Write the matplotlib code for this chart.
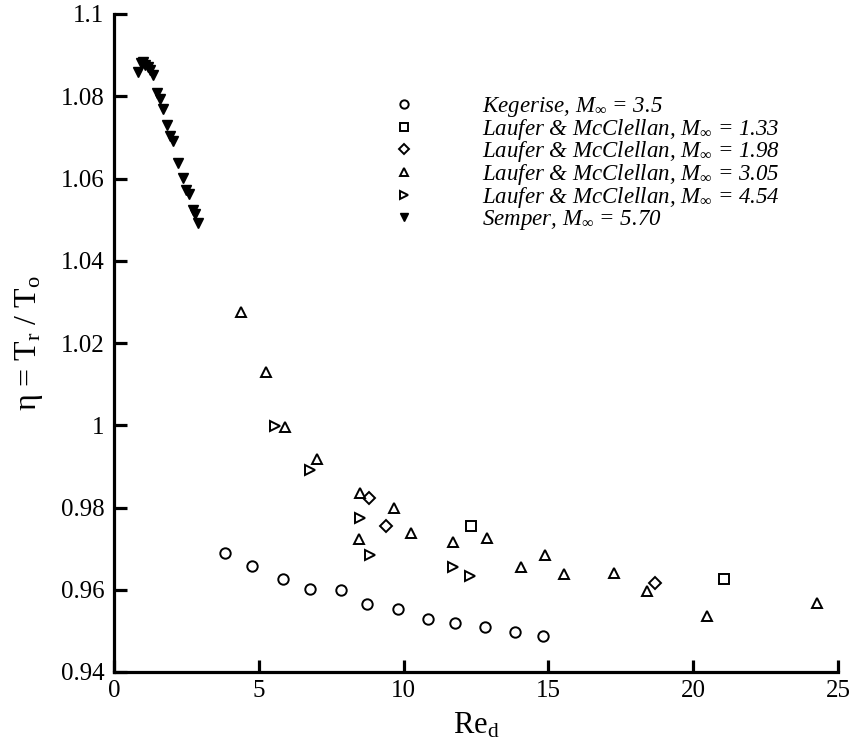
import numpy as np
import matplotlib
matplotlib.use('Agg')
import matplotlib.pyplot as plt
from matplotlib.ticker import FuncFormatter

plt.rcParams['font.family'] = ['Liberation Serif', 'DejaVu Serif']
plt.rcParams['mathtext.fontset'] = 'custom'
plt.rcParams['mathtext.rm'] = 'Liberation Serif'
plt.rcParams['mathtext.it'] = 'Liberation Serif:italic'

# Kegerise, M = 3.5
keg_x = [3.83, 4.78, 5.82, 6.78, 7.83, 8.75, 9.80, 10.85, 11.79, 12.82, 13.84, 14.80]
keg_y = [0.9689, 0.9658, 0.9625, 0.9601, 0.9599, 0.9565, 0.9552, 0.9530, 0.9518, 0.9509, 0.9498, 0.9488]

# Laufer & McClellan, M = 1.33
lm133_x = [12.32, 21.08]
lm133_y = [0.9756, 0.9625]

# Laufer & McClellan, M = 1.98
lm198_x = [8.80, 9.39, 18.69]
lm198_y = [0.9824, 0.9755, 0.9616]

# Laufer & McClellan, M = 3.05
lm305_x = [4.38, 5.26, 5.91, 7.00, 8.49, 9.67, 10.24, 8.47, 11.72, 12.87,
           14.06, 14.89, 15.53, 17.28, 18.41, 20.48, 24.29]
lm305_y = [1.0276, 1.0129, 0.9996, 0.9918, 0.9836, 0.9798, 0.9737, 0.9724, 0.9716, 0.9727,
           0.9656, 0.9684, 0.9638, 0.9640, 0.9597, 0.9536, 0.9567]

# Laufer & McClellan, M = 4.54
lm454_x = [5.56, 6.76, 8.48, 8.83, 11.72, 12.31]
lm454_y = [0.9999, 0.9892, 0.9775, 0.9685, 0.9655, 0.9633]

# Semper, M = 5.70
sem_x = [0.82, 0.92, 1.01, 1.07, 1.18, 1.24, 1.36, 1.47, 1.59, 1.70, 1.84, 1.93,
         2.05, 2.22, 2.39, 2.47, 2.59, 2.74, 2.79, 2.91]
sem_y = [1.0860, 1.0880, 1.0884, 1.0876, 1.0872, 1.0864, 1.0852, 1.0807, 1.0793, 1.0768,
         1.0730, 1.0704, 1.0692, 1.0637, 1.0602, 1.0572, 1.0562, 1.0524, 1.0514, 1.0491]

fig = plt.figure(figsize=(8.54, 7.42), dpi=100)
ax = fig.add_axes([114/854, 1 - 672/742, (838-114)/854, (672-14)/742])

open_kw = dict(linestyle='none', markerfacecolor='white', markeredgecolor='black',
               markeredgewidth=1.4)
ax.plot(keg_x, keg_y, marker='o', markersize=7.5, label=r'Kegerise, $M_\infty$ = 3.5', **open_kw)
ax.plot(lm133_x, lm133_y, marker='s', markersize=6.5,
        label=r'Laufer & McClellan, $M_\infty$ = 1.33', **open_kw)
ax.plot(lm198_x, lm198_y, marker='D', markersize=6,
        label=r'Laufer & McClellan, $M_\infty$ = 1.98', **open_kw)
ax.plot(lm305_x, lm305_y, marker='^', markersize=7.5,
        label=r'Laufer & McClellan, $M_\infty$ = 3.05', **open_kw)
ax.plot(lm454_x, lm454_y, marker='>', markersize=7.5,
        label=r'Laufer & McClellan, $M_\infty$ = 4.54', **open_kw)
ax.plot(sem_x, sem_y, linestyle='none', marker='v', markersize=6.5, color='black',
        label=r'Semper, $M_\infty$ = 5.70')

ax.set_xlim(0, 25)
ax.set_ylim(0.94, 1.1)
ax.set_xticks([0, 5, 10, 15, 20, 25])
ax.set_yticks([0.94, 0.96, 0.98, 1.0, 1.02, 1.04, 1.06, 1.08, 1.1])
ax.yaxis.set_major_formatter(FuncFormatter(lambda v, p: '%g' % round(v, 2)))

for s in ['top', 'right']:
    ax.spines[s].set_visible(False)
for s in ['left', 'bottom']:
    ax.spines[s].set_linewidth(2.3)

ax.tick_params(direction='in', length=9, width=2.3, labelsize=18)
ax.tick_params(axis='y', pad=7)
ax.tick_params(axis='x', pad=6)

ax.set_xlabel('Re$_\\mathrm{d}$', fontsize=22, labelpad=6)
ax.set_ylabel('\u03b7 = T$_\\mathrm{r}$ / T$_\\mathrm{o}$', fontsize=23, labelpad=11)

ax.legend(loc='upper left', bbox_to_anchor=(393/854, 1 - 95/742),
          bbox_transform=fig.transFigure, frameon=False, borderpad=0,
          borderaxespad=0, handlelength=1.0, handletextpad=2.9, labelspacing=-0.1,
          markerscale=0.8,
          prop={'family': 'Liberation Serif', 'style': 'italic', 'size': 16.5})

fig.savefig('out.png', dpi=100)
